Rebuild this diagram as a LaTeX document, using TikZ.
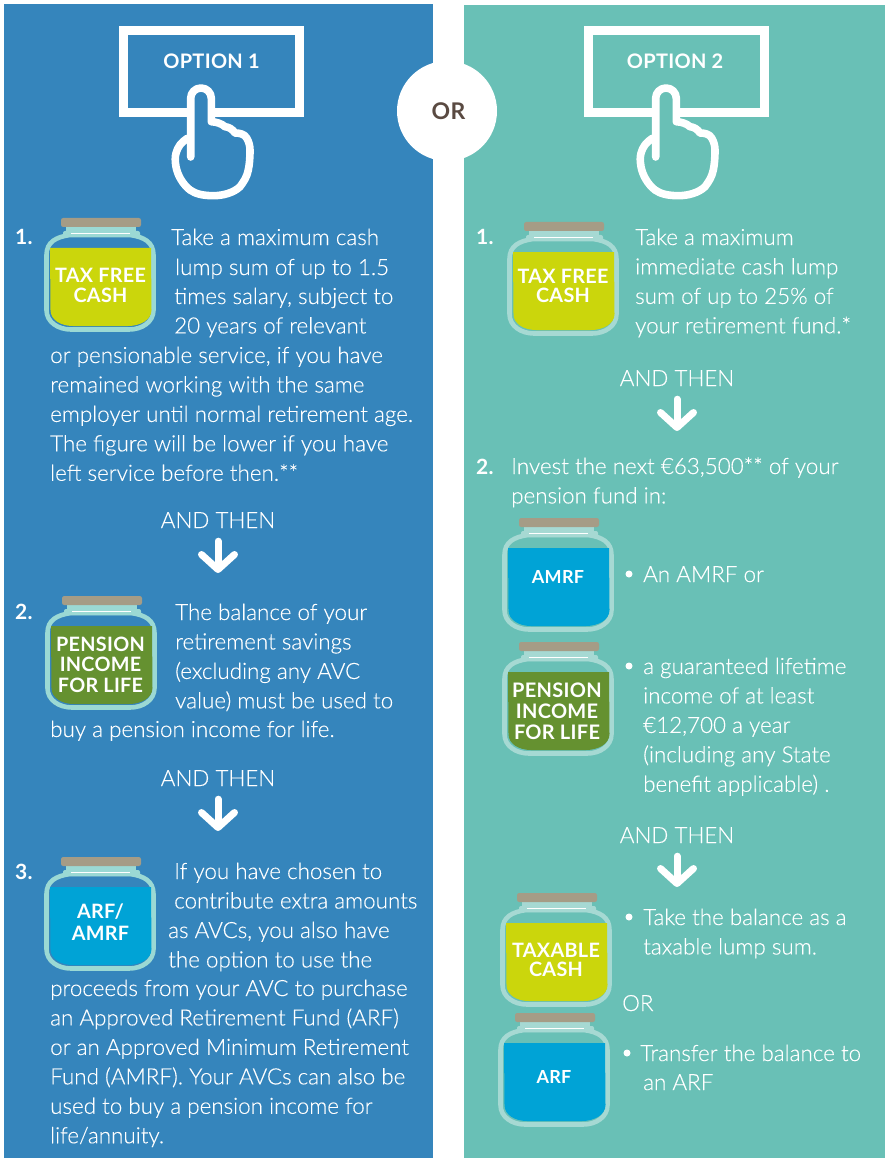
\documentclass[tikz,border=0pt]{standalone}
\usepackage{fontspec}
\usetikzlibrary{arrows.meta}
\setmainfont{Lato}
\newfontfamily\bodyf{Lato Light}[FakeBold=0.2]
\newfontfamily\headf{Lato}[BoldFont={Lato Bold},LetterSpace=1.5]
\definecolor{panelblue}{HTML}{3585BC}
\definecolor{panelteal}{HTML}{69C0B6}
\definecolor{lidc}{HTML}{A59C86}
\definecolor{glassb}{HTML}{9BD9D4}
\definecolor{glasst}{HTML}{A6D9D3}
\definecolor{limec}{HTML}{CBD60C}
\definecolor{cyanc}{HTML}{00A3D6}
\definecolor{greenc}{HTML}{659130}
\definecolor{orc}{HTML}{5A4A42}
\newcommand\ml[1]{\begin{tabular}[t]{@{}l@{}}#1\end{tabular}}
\tikzset{
  x=1pt,y=-1pt,
  txt/.style={anchor=base west,inner sep=0pt,text=white,
    font=\bodyf\fontsize{22.4}{29.45}\selectfont},
  thencap/.style={anchor=base,inner sep=0pt,text=white,
    font=\bodyf\fontsize{22.4}{29.45}\selectfont},
  numb/.style={anchor=base west,inner sep=0pt,text=white,
    font=\headf\bfseries\fontsize{21}{24}\selectfont},
  jarlab/.style={inner sep=0pt,text=white,align=center,
    font=\headf\bfseries\fontsize{#1}{#1}\selectfont},
  jarlab/.default=19.8,
  bullet/.style={circle,fill=white,inner sep=0pt,minimum size=7pt},
  bigarrow/.style={white,line width=7pt,line cap=round,shorten <=13pt,
    -{Straight Barb[length=15pt,width=33pt,line width=7pt,round]}},
  pics/jar/.style args={#1/#2}{code={
    \draw[#2,line width=4.6pt]
      (2.5,37) .. controls (2.5,24) and (12,19) .. (26,17) -- (86,17)
      .. controls (100,19) and (109.5,24) .. (109.5,37) -- (109.5,92)
      .. controls (109.5,104) and (98,111.5) .. (85,111.5) -- (27,111.5)
      .. controls (14,111.5) and (2.5,104) .. (2.5,92) -- cycle;
    \fill[#1] (6,30) -- (107,30) -- (107.5,92)
      .. controls (107.5,102) and (96,108) .. (84,108) -- (29,108)
      .. controls (17,108) and (6.5,102) .. (6.5,92) -- cycle;
    \fill[#2] (22,9) rectangle (92,14);
    \fill[#2,rounded corners=2pt] (19,13) rectangle (96,19);
    \fill[white] (27,14.6) rectangle (86,15.6);
    \fill[lidc,rounded corners=2.2pt] (17,0) rectangle (97,9);
  }},
  pics/hand/.style={code={
    \draw[white,line width=9pt] (-1,0) rectangle (175,82);
    \draw[draw=white,fill=#1,line width=7.6pt,line cap=round,line join=round]
      (66.2,126) -- (66.2,67.3) arc[start angle=180,end angle=360,radius=10.3] -- (86.8,90.7)
      .. controls (92,91) and (97,92.5) .. (100.5,95.7)
      .. controls (104,96) and (108,98) .. (110.5,102)
      .. controls (115,102) and (120,103) .. (122.2,107)
      .. controls (124.5,111) and (125.5,115) .. (125.5,119)
      .. controls (125.5,127) and (125,133) .. (123.8,139)
      .. controls (122.5,146) and (119,151) .. (115.5,155.7)
      .. controls (109,162) and (98,164.7) .. (88.8,164.7)
      .. controls (79,164.7) and (71,163) .. (65.5,159)
      .. controls (58,153) and (53,144) .. (51.5,135.7)
      .. controls (50.5,130) and (50.5,126) .. (51.5,122.3)
      .. controls (53,116) and (57,111) .. (62.8,107.3);
  }},
}
\begin{document}
\begin{tikzpicture}
\useasboundingbox (0,0) rectangle (885,1158);
\fill[white] (0,0) rectangle (885,1158);
\fill[panelblue] (4,4) rectangle (433,1158);
\fill[panelteal] (464,5) rectangle (885,1158);
\node[circle,fill=white,minimum size=100pt,inner sep=0pt] (orc) at (447,111) {};
\node[inner sep=0pt,text=orc,font=\headf\bfseries\fontsize{23}{24}\selectfont] (ortxt) at (448.5,111) {OR};

% option boxes
\pic at (124.5,31) {hand=panelblue};
\pic at (589.5,31) {hand=panelteal};
\node[inner sep=0pt,text=white,font=\headf\bfseries\fontsize{20}{24}\selectfont] (opt1) at (211.5,61) {OPTION 1};
\node[inner sep=0pt,text=white,font=\headf\bfseries\fontsize{20}{24}\selectfont] (opt2) at (675,61) {OPTION 2};

% jars
\pic at (44,218) {jar=limec/glassb};
\pic at (45,596) {jar=greenc/glassb};
\pic at (44,857) {jar=cyanc/glassb};
\pic at (507,222) {jar=limec/glasst};
\pic at (502,518) {jar=cyanc/glasst};
\pic at (502,642) {jar=greenc/glasst};
\pic at (500,893) {jar=limec/glasst};
\pic at (498,1013) {jar=cyanc/glasst};

\node[jarlab] (j1) at (100.5,285.5) {TAX FREE\\[-0.5pt]CASH};
\node[jarlab] (j2) at (100.5,664.5) {PENSION\\[0.7pt]INCOME\\[0.7pt]FOR LIFE};
\node[jarlab] (j3) at (100.5,922) {ARF/\\[2pt]AMRF};
\node[jarlab] (j4) at (563,286) {TAX FREE\\[-0.5pt]CASH};
\node[jarlab=18] (j5) at (558,577) {AMRF};
\node[jarlab=20] (j6) at (557,711) {PENSION\\[1pt]INCOME\\[1pt]FOR LIFE};
\node[jarlab] (j7) at (556,960) {TAXABLE\\[-0.5pt]CASH};
\node[jarlab=18] (j8) at (554,1077) {ARF};

% left text
\node[numb] (n1) at (15,244.5) {1.};
\node[txt] (a1) at (171,245) {Take a maximum cash};
\node[txt] (a2) at (175,275) {lump sum of up to 1.5};
\node[txt] (a3) at (174,304) {\ml{times salary, subject to\\20 years of relevant}};
\node[txt] (a4) at (50,363) {\ml{or pensionable service, if you have\\remained working with the same\\employer until normal retirement age.\\The figure will be lower if you have\\left service before then.**}};
\node[thencap] (t1) at (218,528) {AND THEN};
\coordinate (t1e) at (218,573);
\draw[bigarrow] (t1.south) -- (t1e);

\node[numb] (n2) at (15,619.5) {2.};
\node[txt] (b1) at (175,620) {\ml{The balance of your\\retirement savings\\(excluding any AVC\\value) must be used to}};
\node[txt] (b2) at (50,737) {buy a pension income for life.};
\node[thencap] (t2) at (218,786) {AND THEN};
\coordinate (t2e) at (218,831);
\draw[bigarrow] (t2.south) -- (t2e);

\node[numb] (n3) at (15,879) {3.};
\node[txt] (c1) at (174,879) {\ml{If you have chosen to\\contribute extra amounts}};
\node[txt] (c2) at (168,938) {\ml{as AVCs, you also have\\the option to use the}};
\node[txt] (c3) at (50,996) {\ml{proceeds from your AVC to purchase\\an Approved Retirement Fund (ARF)\\or an Approved Minimum Retirement\\Fund (AMRF). Your AVCs can also be\\used to buy a pension income for\\life/annuity.}};

% right text
\node[numb] (n4) at (476,244.5) {1.};
\node[txt] (d1) at (635,245) {\ml{Take a maximum\\immediate cash lump\\sum of up to 25\% of\\your retirement fund.*}};
\node[thencap] (t3) at (677,386) {AND THEN};
\coordinate (t3e) at (677,431);
\draw[bigarrow] (t3.south) -- (t3e);
\node[numb] (n5) at (476,474) {2.};
\node[txt] (e1) at (511,474) {\ml{Invest the next €63,500** of your\\pension fund in:}};
\node[bullet] (b-1) at (629,574) {};
\node[txt] (f1) at (643,582) {An AMRF or};
\node[bullet] (b-2) at (629,666) {};
\node[txt] (f2) at (643,674) {\ml{a guaranteed lifetime\\income of at least\\€12,700 a year\\(including any State\\benefit applicable) .}};
\node[thencap] (t4) at (677,843) {AND THEN};
\coordinate (t4e) at (677,887);
\draw[bigarrow] (t4.south) -- (t4e);
\node[bullet] (b-3) at (629,917) {};
\node[txt] (g1) at (643,925) {\ml{Take the balance as a\\taxable lump sum.}};
\node[txt] (g2) at (622,1011) {OR};
\node[bullet] (b-4) at (627,1053) {};
\node[txt] (g3) at (640,1061) {Transfer the balance to};
\node[txt] (g4) at (643,1090) {an ARF};
\end{tikzpicture}
\end{document}
